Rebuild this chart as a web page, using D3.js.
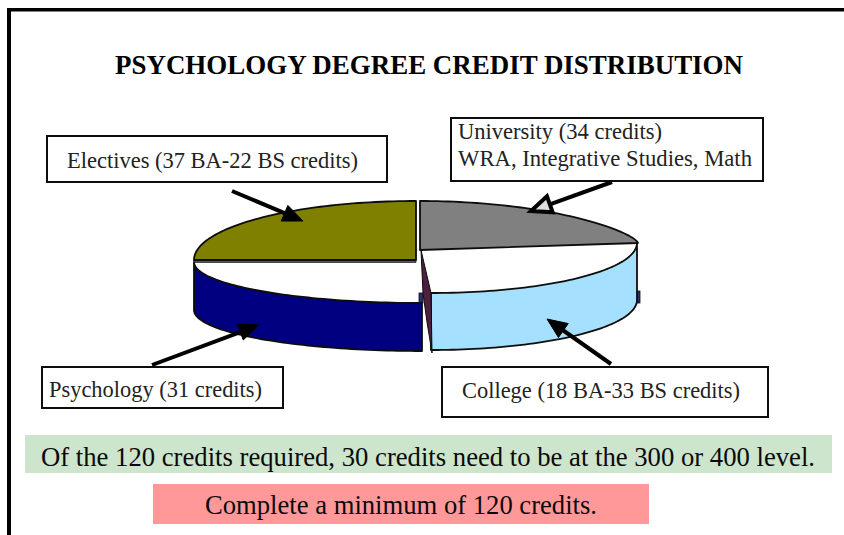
<!DOCTYPE html>
<html><head><meta charset="utf-8">
<script src="https://cdn.jsdelivr.net/npm/d3@7"></script>
<style>html,body{margin:0;padding:0;background:#fff;overflow:hidden}svg{display:block}text{font-family:"Liberation Serif",serif}</style>
</head><body><svg id="c" width="844" height="535"></svg>
<script>
// Data
const titleText = "PSYCHOLOGY DEGREE CREDIT DISTRIBUTION";
const sliceNames = ["University", "College", "Psychology", "Electives"];
const drawnShares = [25, 25, 25, 25]; // the picture draws each wedge as about a quarter
const calloutLines = [
  ["University (34 credits)", "WRA, Integrative Studies, Math"],
  ["College (18 BA-33 BS credits)"],
  ["Psychology (31 credits)"],
  ["Electives (37 BA-22 BS credits)"]
];
const noteGreen = "Of the 120 credits required, 30 credits need to be at the 300 or 400 level.";
const noteRed = "Complete a minimum of 120 credits.";

// Layout
const W = 844, H = 535;
const svg = d3.select("#c");
const sliceStyle = [
  {fill:"#808080", cx:420, cy:243, rx:218, ry:42, depth:0, apexY:250, shown:"top", bulge:1.4},
  {fill:"#a6e0ff", cx:431, cy:243, rx:206, ry:50, depth:57, shown:"side", bulge:1},
  {fill:"#000080", cx:422, cy:262, rx:228, ry:41, depth:48, shown:"side", bulge:1},
  {fill:"#808000", cx:416, cy:260, rx:222, ry:59, depth:0, apexY:260, shown:"top", bulge:1}
];
const calloutLayout = [
  {box:[451,118,763,181], text:[[458,139,204],[458,166,294]], from:[612,182], to:[531,211], hollow:true},
  {box:[442,367,768,417], text:[[462,398,278]], from:[611,364], to:[547,319]},
  {box:[42,367,283,408], text:[[49,397,213]], from:[152,365], to:[259,325]},
  {box:[47,136,387,182], text:[[67,168,291]], from:[232,191], to:[303,221]}
];
const ink = "#0d0d0d", textInk = "#222";

// Frame
svg.append("rect").attr("x",7).attr("y",8).attr("width",W).attr("height",3.5).attr("fill","#000");
svg.append("rect").attr("x",7).attr("y",8).attr("width",4).attr("height",H).attr("fill","#000");

// Title
svg.append("text").text(titleText).attr("x",115).attr("y",74)
  .attr("font-size",26.5).attr("font-weight","bold").attr("fill","#000")
  .attr("textLength",628).attr("lengthAdjust","spacingAndGlyphs");

// Pie
const arcs = d3.pie().sort(null).value(d=>d).startAngle(0).endAngle(2*Math.PI)(drawnShares);
const line = d3.line();
function rim(s, a0, a1, dy=0){
  const x = d3.scaleLinear().domain([-1,1]).range([s.cx-s.rx, s.cx+s.rx]);
  const y = d3.scaleLinear().domain([-1,1]).range([s.cy+s.ry+dy, s.cy-s.ry+dy]);
  return d3.range(0,61).map(i=>{
    const a = a0+(a1-a0)*i/60, c = Math.cos(a);
    return [x(Math.sin(a)), y(Math.sign(c)*Math.pow(Math.abs(c), s.bulge))];
  });
}
const pieG = svg.append("g");
const S = sliceStyle;
const college = S[1], psych = S[2], univ = S[0];

// bits of the back wall that peek out
pieG.append("rect").attr("x",college.cx+college.rx-1).attr("y",college.cy+48).attr("width",4).attr("height",12)
  .attr("fill","#2a2f70").attr("stroke",ink).attr("stroke-width",0.8);
pieG.append("rect").attr("x",psych.cx-3).attr("y",psych.cy+psych.ry-10).attr("width",4).attr("height",10)
  .attr("fill","#2a2f70").attr("stroke",ink).attr("stroke-width",0.8);

arcs.forEach((d,i)=>{
  const s = S[i];
  const top = rim(s,d.startAngle,d.endAngle);
  const pts = s.shown==="top"
    ? top.concat([[s.cx,s.apexY]])
    : top.concat(rim(s,d.startAngle,d.endAngle,s.depth).reverse());
  if(i===3){ // thin shadow edge under the olive wedge
    pieG.append("rect").attr("x",s.cx-s.rx).attr("y",s.cy).attr("width",s.rx).attr("height",2.5)
      .attr("fill","#555").attr("stroke",ink).attr("stroke-width",0.6);
  }
  pieG.append("path").attr("d",line(pts)+"Z").attr("fill",s.fill)
    .attr("stroke",ink).attr("stroke-width",1.8).attr("stroke-linejoin","round");
});

// maroon sliver between the front wedges
const bx = college.cx, tY = college.cy+college.ry, bY = tY+college.depth;
pieG.append("path").attr("d",line([
  [univ.cx+1,univ.apexY],[bx,tY],[bx+1,bY+3],[bx-4,bY-28],[bx-8,tY]
])+"Z").attr("fill","#4f1f3f").attr("stroke",ink).attr("stroke-width",1);

// Callouts
const cg = svg.append("g");
calloutLayout.forEach((c,i)=>{
  const [x0,y0,x1,y1]=c.box;
  cg.append("rect").attr("x",x0).attr("y",y0).attr("width",x1-x0).attr("height",y1-y0)
    .attr("fill","#fff").attr("stroke",ink).attr("stroke-width",2);
  calloutLines[i].forEach((t,j)=>{
    const [tx,ty,tl]=c.text[j];
    cg.append("text").text(t).attr("x",tx).attr("y",ty).attr("font-size",23).attr("fill",textInk)
      .attr("textLength",tl).attr("lengthAdjust","spacingAndGlyphs");
  });
  // arrow
  const [ax,ay]=c.from,[bx2,by2]=c.to;
  const L=Math.hypot(bx2-ax,by2-ay),ux=(bx2-ax)/L,uy=(by2-ay)/L;
  const hl=20,hw=8.5;
  const nx=bx2-ux*hl,ny=by2-uy*hl;
  cg.append("line").attr("x1",ax).attr("y1",ay).attr("x2",nx).attr("y2",ny)
    .attr("stroke","#000").attr("stroke-width",4);
  cg.append("path").attr("d",line([[bx2,by2],[nx-uy*hw,ny+ux*hw],[nx+uy*hw,ny-ux*hw]])+"Z")
    .attr("fill",c.hollow?"#ddd":"#000").attr("stroke","#000").attr("stroke-width",c.hollow?4:1);
});

// Notes
svg.append("rect").attr("x",25).attr("y",435).attr("width",807).attr("height",38).attr("fill","#cce5cc");
svg.append("text").text(noteGreen).attr("x",41).attr("y",466).attr("font-size",27).attr("fill","#0a0a0a")
  .attr("textLength",774).attr("lengthAdjust","spacingAndGlyphs");
svg.append("rect").attr("x",153).attr("y",484).attr("width",496).attr("height",40).attr("fill","#ff9999");
svg.append("text").text(noteRed).attr("x",205).attr("y",514).attr("font-size",27).attr("fill","#0a0a0a")
  .attr("textLength",392).attr("lengthAdjust","spacingAndGlyphs");
</script></body></html>
